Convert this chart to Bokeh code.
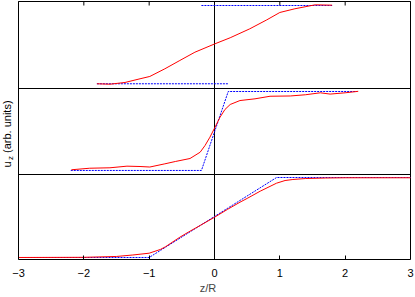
import math
from bokeh.plotting import figure
from bokeh.models import Range1d, FixedTicker, Label
from bokeh.embed import file_html
from bokeh.resources import INLINE

# ---------------- data ----------------
x_min, x_max = -3, 3
tick_values = [-3, -2, -1, 0, 1, 2, 3]
tick_labels = ["−3", "−2", "−1", "0", "1", "2", "3"]
panel_separators = [1.0, 2.0]

# bottom panel (offset 0)
bottom_model_x = [-3.0, -1.0, 0.95, 3.0]
bottom_model_y = [0.035, 0.035, 0.965, 0.965]
bottom_meas_x = [-3.0, -2.0, -1.5, -1.25, -1.0, -0.83, -0.75, -0.53, -0.4, -0.22, 0.0,
                 0.2, 0.39, 0.5, 0.7, 0.95, 1.08, 1.2, 1.39, 1.7, 2.0, 3.0]
bottom_meas_y = [0.035, 0.037, 0.047, 0.064, 0.085, 0.128, 0.160, 0.271, 0.330, 0.407, 0.503,
                 0.595, 0.678, 0.722, 0.806, 0.899, 0.930, 0.942, 0.953, 0.959, 0.962, 0.962]

# middle panel (offset 1)
middle_model_x = [-2.2, -0.2, 0.21, 2.18]
middle_model_y = [1.047, 1.047, 1.965, 1.965]
middle_meas_x = [-2.19, -1.91, -1.60, -1.34, -1.14, -0.99, -0.76, -0.60, -0.375, -0.22, -0.145,
                 -0.07, 0.008, 0.084, 0.16, 0.24, 0.39, 0.62, 0.85, 1.16, 1.39, 1.62, 1.77,
                 2.0, 2.2]
middle_meas_y = [1.055, 1.073, 1.078, 1.097, 1.093, 1.087, 1.124, 1.151, 1.186, 1.259, 1.337,
                 1.434, 1.550, 1.666, 1.756, 1.814, 1.860, 1.880, 1.910, 1.913, 1.927, 1.950,
                 1.935, 1.950, 1.967]

# top panel (offset 2)
top_model_low_x = [-1.8, 0.21]
top_model_low_y = [2.055, 2.055]
top_model_high_x = [-0.2, 1.8]
top_model_high_y = [2.965, 2.965]
top_meas_x = [-1.8, -1.60, -1.37, -1.14, -0.99, -0.76, -0.53, -0.30, 0.008, 0.24, 0.54,
              0.8, 1.0, 1.23, 1.54, 1.8]
top_meas_y = [2.055, 2.050, 2.070, 2.113, 2.140, 2.229, 2.326, 2.422, 2.520, 2.590, 2.694,
              2.798, 2.884, 2.927, 2.973, 2.969]

FONT = "Liberation Sans"
RED = "#ff0000"
BLUE = "#0000ff"

# ---------------- layout ----------------
W, H = 415, 297
left_px, right_px = 18, 5        # room for the y label / last tick label
bottom_border = 38
frame_h = H - bottom_border      # frame spans the whole height above the x axis
px_per_unit_x = (W - left_px - right_px) / (x_max - x_min)
xr = Range1d(x_min - left_px / px_per_unit_x, x_max + right_px / px_per_unit_x)
px_per_unit_y = 86.0
y_lo = panel_separators[0] - 85 / px_per_unit_y
y_hi = y_lo + frame_h / px_per_unit_y
box_top = y_hi - 1 / px_per_unit_y
tick_len = 4 / px_per_unit_y

p = figure(width=W, height=H, output_backend="svg", toolbar_location=None,
           x_range=xr, y_range=Range1d(y_lo, y_hi),
           y_axis_location=None,
           min_border_left=0, min_border_right=0, min_border_top=0,
           min_border_bottom=bottom_border)
p.xgrid.visible = False
p.ygrid.visible = False
p.outline_line_color = None
p.background_fill_color = "white"
p.border_fill_color = "white"

xa = p.xaxis[0]
xa.bounds = (x_min, x_max)
xa.ticker = FixedTicker(ticks=tick_values)
xa.major_label_overrides = {v: s for v, s in zip(tick_values, tick_labels)}
xa.major_tick_in = 4
xa.major_tick_out = 0
xa.minor_tick_line_color = None
xa.major_label_standoff = 9
xa.major_label_text_font = FONT
xa.major_label_text_font_size = "11px"
xa.major_label_text_color = "black"
xa.axis_label = "z/R"
xa.axis_label_text_font = FONT
xa.axis_label_text_font_size = "11px"
xa.axis_label_text_font_style = "normal"
xa.axis_label_standoff = 2
xa.axis_line_color = "black"

# frame box (top, sides), zero line, top ticks, panel separators
p.segment(x0=[x_min, x_max, 0], y0=[y_lo] * 3, x1=[x_min, x_max, 0], y1=[box_top] * 3,
          line_color="black", line_width=1)
p.segment(x0=[x_min], y0=[box_top], x1=[x_max], y1=[box_top], line_color="black", line_width=1)
p.segment(x0=tick_values, y0=[box_top] * len(tick_values), x1=tick_values,
          y1=[box_top - tick_len] * len(tick_values), line_color="black", line_width=1)
p.segment(x0=[x_min] * len(panel_separators), y0=panel_separators,
          x1=[x_max] * len(panel_separators), y1=panel_separators,
          line_color="black", line_width=1)

dash = "2 1"
p.line(bottom_model_x, bottom_model_y, line_color=BLUE, line_width=1, line_dash=dash)
p.line(middle_model_x, middle_model_y, line_color=BLUE, line_width=1, line_dash=dash)
p.line(top_model_low_x, top_model_low_y, line_color=BLUE, line_width=1, line_dash=dash)
p.line(top_model_high_x, top_model_high_y, line_color=BLUE, line_width=1, line_dash=dash)

p.line(bottom_meas_x, bottom_meas_y, line_color=RED, line_width=1)
p.line(middle_meas_x, middle_meas_y, line_color=RED, line_width=1)
p.line(top_meas_x, top_meas_y, line_color=RED, line_width=1)

# rotated y label "u_z (arb. units)"
ang = math.pi / 2
p.add_layout(Label(x=-3.173, y=1.081, text="u", angle=ang,
                   text_font=FONT, text_font_size="11px", text_align="left",
                   text_baseline="middle", text_color="black"))
p.add_layout(Label(x=-3.130, y=1.168, text="z", angle=ang,
                   text_font=FONT, text_font_size="8px", text_align="left",
                   text_baseline="middle", text_color="black"))
p.add_layout(Label(x=-3.173, y=1.250, text="(arb. units)",
                   angle=ang, text_font=FONT, text_font_size="11px", text_align="left",
                   text_baseline="middle", text_color="black"))

open("out.html", "w").write(file_html(p, INLINE))
